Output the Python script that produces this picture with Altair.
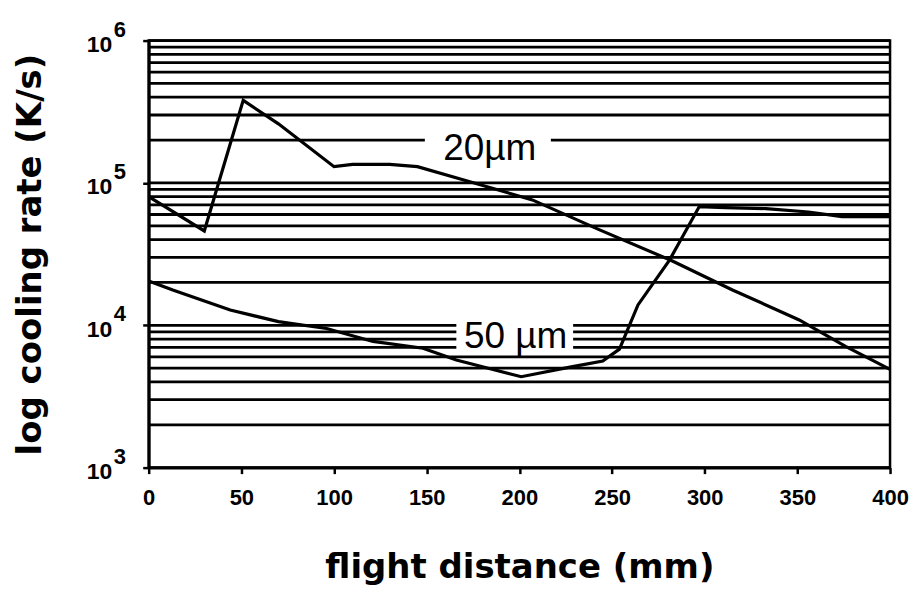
import altair as alt
import pandas as pd

# --- data ---
x20 = [0, 30, 51, 70, 100, 110, 130, 145, 171, 207, 243, 282, 315, 351, 376, 400]
y20 = [8.0e4, 4.6e4, 3.8e5, 2.6e5, 1.3e5, 1.35e5, 1.35e5, 1.3e5, 1.04e5, 7.6e4,
       4.7e4, 2.85e4, 1.77e4, 1.09e4, 7.1e3, 4.9e3]
x50 = [0, 13, 44, 70, 96, 121, 148, 166, 201, 228, 245, 254, 264, 281, 297, 311,
       333, 356, 374, 400]
y50 = [2.05e4, 1.77e4, 1.28e4, 1.06e4, 9.5e3, 7.7e3, 6.9e3, 5.7e3, 4.35e3, 5.1e3,
       5.6e3, 6.8e3, 1.39e4, 2.87e4, 6.8e4, 6.7e4, 6.6e4, 6.25e4, 5.8e4, 5.8e4]

x_ticks = [0, 50, 100, 150, 200, 250, 300, 350, 400]
decades = [1e3, 1e4, 1e5, 1e6]
exponents = ["3", "4", "5", "6"]
grid_vals = [k * 10 ** d for d in (3, 4, 5) for k in range(1, 10)] + [1e6]

label_text = ["20µm", "50 µm"]
label_x = [184, 198]
label_y = [1.44e5, 6.94e3]
box_x = [149, 166]
box_x2 = [217, 229]
box_y = [1.45e5, 6.5e3]
box_y2 = [2.5e5, 1.06e4]

lines_df = pd.DataFrame(
    {"x": x20 + x50, "y": y20 + y50,
     "s": ["20µm"] * len(x20) + ["50 µm"] * len(x50)}
)
grid_df = pd.DataFrame({"y": grid_vals})
exp_df = pd.DataFrame({"y": decades, "e": exponents})
lab_df = pd.DataFrame({"x": label_x, "y": label_y, "t": label_text})
box_df = pd.DataFrame({"x": box_x, "x2": box_x2, "y": box_y, "y2": box_y2})

W, H = 743, 428
XSCALE = alt.Scale(domain=[0, 400], nice=False, zero=False)
YSCALE = alt.Scale(type="log", domain=[1e3, 1e6], nice=False)

XAXIS = alt.Axis(
    values=x_ticks, grid=False, domainColor="black", domainWidth=3,
    tickColor="black", tickWidth=2.5, tickSize=6,
    labelFont="Liberation Sans", labelFontWeight="bold", labelFontSize=22,
    labelColor="black", labelPadding=14, labelFlush=False,
    title="flight distance (mm)", titleFont="DejaVu Sans", titleFontWeight="bold",
    titleFontSize=34, titleColor="black", titleX=W / 2, titleY=110,
    titleBaseline="alphabetic", titleAlign="center",
)
YAXIS = alt.Axis(
    values=decades, grid=False, domainColor="black", domainWidth=3,
    tickColor="black", tickWidth=2.5, tickSize=6,
    labelExpr="'10'", labelFont="Liberation Sans", labelFontWeight="bold",
    labelFontSize=23, labelColor="black", labelPadding=31, labelOffset=4,
    labelBaseline="middle", labelFlush=False,
    title="log cooling rate (K/s)", titleFont="DejaVu Sans", titleFontWeight="bold",
    titleFontSize=34, titleColor="black", titleAngle=-90, titleX=-118,
    titleY=H / 2, titleBaseline="middle", titleAlign="center",
)


def X(f):
    return alt.X(f, type="quantitative", scale=XSCALE, axis=XAXIS)


def Y(f):
    return alt.Y(f, type="quantitative", scale=YSCALE, axis=YAXIS)


grid = alt.Chart(grid_df).mark_rule(color="black", strokeWidth=2.8).encode(y=Y("y"))

boxes = alt.Chart(box_df).mark_rect(color="white").encode(
    x=X("x"), x2="x2", y=Y("y"), y2="y2"
)

lines = alt.Chart(lines_df).mark_line(color="black", strokeWidth=3.2).encode(
    x=X("x"), y=Y("y"), detail="s:N"
)

labels = alt.Chart(lab_df).mark_text(
    font="Liberation Sans", fontSize=37, color="black", align="center",
    baseline="alphabetic"
).encode(x=X("x"), y=Y("y"), text="t:N")

exps = alt.Chart(exp_df).mark_text(
    font="Liberation Sans", fontWeight="bold", fontSize=22, color="black",
    align="left", baseline="middle", dx=-35, dy=-11
).encode(x=alt.value(0), y=Y("y"), text="e:N")

chart = alt.layer(grid, boxes, lines, labels, exps).properties(
    width=W, height=H,
    padding={"left": 141, "top": 32, "right": 20, "bottom": 120},
    autosize=alt.AutoSizeParams(type="none"),
).configure_view(stroke="black", strokeWidth=2.5)

chart.save("out.html", embed_options={"renderer": "svg", "actions": False})
